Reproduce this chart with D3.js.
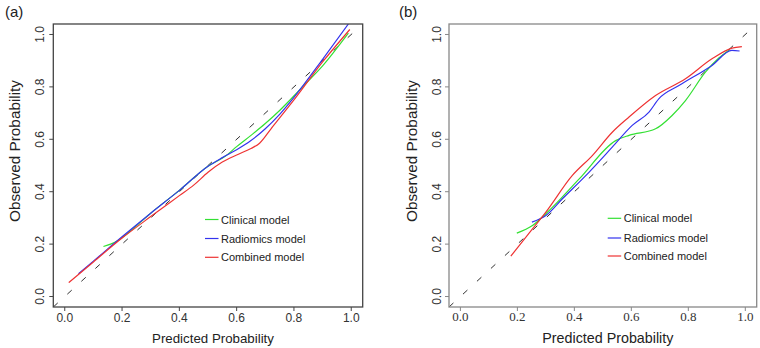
<!DOCTYPE html>
<html>
<head>
<meta charset="utf-8">
<script src="https://cdn.jsdelivr.net/npm/d3@7"></script>
<style>
  html, body { margin: 0; padding: 0; background: #fff; }
  svg { display: block; font-family: "Liberation Sans", Arial, sans-serif; }
</style>
</head>
<body>
<svg id="chart" width="760" height="348"></svg>
<script>
// ── Data ──────────────────────────────────────────────────────────────────────
const TICKS = [0, 0.2, 0.4, 0.6, 0.8, 1.0];
const SERIES_NAMES = ['Clinical model', 'Radiomics model', 'Combined model'];

// (a) training
const A_CLIN_X = [0.135, 0.16, 0.19, 0.25, 0.3, 0.4, 0.5, 0.56, 0.6, 0.65, 0.7, 0.75, 0.83, 0.9, 0.99];
const A_CLIN_Y = [0.191, 0.2, 0.217, 0.27, 0.318, 0.405, 0.497, 0.535, 0.572, 0.615, 0.66, 0.71, 0.80, 0.88, 1.005];
const A_RAD_X  = [0.048, 0.1, 0.2, 0.3, 0.4, 0.5, 0.55, 0.6, 0.65, 0.7, 0.75, 0.8, 0.9, 0.99];
const A_RAD_Y  = [0.087, 0.135, 0.228, 0.318, 0.405, 0.497, 0.53, 0.56, 0.595, 0.64, 0.695, 0.76, 0.905, 1.04];
const A_COMB_X = [0.014, 0.1, 0.2, 0.3, 0.4, 0.45, 0.5, 0.55, 0.6, 0.65, 0.68, 0.72, 0.8, 0.9, 0.995];
const A_COMB_Y = [0.053, 0.132, 0.223, 0.305, 0.385, 0.425, 0.474, 0.513, 0.54, 0.565, 0.585, 0.64, 0.75, 0.895, 1.019];

// (b) validation
const B_CLIN_X = [0.198, 0.253, 0.3, 0.417, 0.545, 0.592, 0.685, 0.743, 0.79, 0.86, 0.907, 0.945];
const B_CLIN_Y = [0.242, 0.271, 0.316, 0.449, 0.595, 0.615, 0.64, 0.691, 0.748, 0.856, 0.91, 0.942];
const B_RAD_X  = [0.251, 0.3, 0.358, 0.452, 0.533, 0.603, 0.662, 0.697, 0.767, 0.883, 0.953, 0.98];
const B_RAD_Y  = [0.284, 0.309, 0.373, 0.475, 0.570, 0.653, 0.704, 0.755, 0.805, 0.882, 0.939, 0.937];
const B_COMB_X = [0.177, 0.253, 0.3, 0.393, 0.463, 0.533, 0.592, 0.685, 0.79, 0.883, 0.953, 0.988];
const B_COMB_Y = [0.154, 0.258, 0.322, 0.462, 0.538, 0.627, 0.685, 0.767, 0.831, 0.907, 0.948, 0.954];

// ── Styles ────────────────────────────────────────────────────────────────────
const COLORS = ['#33e033', '#3333ee', '#ee3333'];
const DOMAIN = [-0.04, 1.04];

const zip = (xs, ys) => xs.map((x, i) => ({ x, y: ys[i] }));

const panels = [
  {
    tag: '(a)', tagX: 5, frame: '#444',
    left: 53.3, right: 362.7, top: 24, bottom: 307,
    yLabelX: 14, yTickX: 40, xTickY: 318, xTickFont: 'Liberation Sans', xTickSize: 12,
    xTitleSize: 13.3,
    legendX: 205, legendY: [219.5, 238.5, 257.3],
    series: [zip(A_CLIN_X, A_CLIN_Y), zip(A_RAD_X, A_RAD_Y), zip(A_COMB_X, A_COMB_Y)],
  },
  {
    tag: '(b)', tagX: 399, frame: '#888',
    left: 449, right: 756.7, top: 24, bottom: 307,
    yLabelX: 411.5, yTickX: 437, xTickY: 316.5, xTickFont: 'Liberation Serif', xTickSize: 13,
    xTitleSize: 14.3,
    legendX: 607.7, legendY: [218.3, 238, 256],
    series: [zip(B_CLIN_X, B_CLIN_Y), zip(B_RAD_X, B_RAD_Y), zip(B_COMB_X, B_COMB_Y)],
  },
];

const svg = d3.select('#chart');

panels.forEach((p, pi) => {
  const x = d3.scaleLinear().domain(DOMAIN).range([p.left, p.right]);
  const y = d3.scaleLinear().domain(DOMAIN).range([p.bottom, p.top]);
  const g = svg.append('g');

  const clipId = `clip-${pi}`;
  g.append('clipPath').attr('id', clipId)
    .append('rect')
    .attr('x', p.left).attr('y', p.top)
    .attr('width', p.right - p.left).attr('height', p.bottom - p.top);

  // panel tag
  g.append('text')
    .attr('x', p.tagX).attr('y', 17)
    .attr('font-size', 15).attr('fill', '#222')
    .text(p.tag);

  // reference diagonal
  g.append('line')
    .attr('clip-path', `url(#${clipId})`)
    .attr('x1', x(DOMAIN[0])).attr('y1', y(DOMAIN[0]))
    .attr('x2', x(1.02)).attr('y2', y(1.02))
    .attr('stroke', '#333').attr('stroke-width', 1)
    .attr('stroke-dasharray', '6,13');

  // calibration curves
  const line = d3.line().x(d => x(d.x)).y(d => y(d.y)).curve(d3.curveMonotoneX);
  p.series.forEach((s, i) => {
    g.append('path')
      .datum(s)
      .attr('clip-path', `url(#${clipId})`)
      .attr('d', line)
      .attr('fill', 'none')
      .attr('stroke', COLORS[i])
      .attr('stroke-width', 1.2);
  });

  // frame
  g.append('rect')
    .attr('x', p.left).attr('y', p.top)
    .attr('width', p.right - p.left).attr('height', p.bottom - p.top)
    .attr('fill', 'none').attr('stroke', p.frame).attr('stroke-width', 1.3);

  // x ticks
  g.selectAll('line.xt').data(TICKS).join('line')
    .attr('x1', d => x(d)).attr('x2', d => x(d))
    .attr('y1', p.bottom).attr('y2', p.bottom + 4)
    .attr('stroke', p.frame);
  g.selectAll('text.xt').data(TICKS).join('text')
    .attr('x', d => x(d)).attr('y', p.xTickY)
    .attr('text-anchor', 'middle').attr('dominant-baseline', 'central')
    .attr('font-family', p.xTickFont).attr('font-size', p.xTickSize)
    .attr('fill', '#333')
    .text(d => d3.format('.1f')(d));

  // y ticks
  g.selectAll('line.yt').data(TICKS).join('line')
    .attr('x1', p.left - 4).attr('x2', p.left)
    .attr('y1', d => y(d)).attr('y2', d => y(d))
    .attr('stroke', p.frame);
  g.selectAll('text.yt').data(TICKS).join('text')
    .attr('transform', d => `translate(${p.yTickX},${y(d)}) rotate(-90)`)
    .attr('text-anchor', 'middle').attr('dominant-baseline', 'central')
    .attr('font-size', 12).attr('fill', '#333')
    .text(d => d3.format('.1f')(d));

  // axis titles
  g.append('text')
    .attr('x', (p.left + p.right) / 2 + 5).attr('y', 338)
    .attr('text-anchor', 'middle').attr('dominant-baseline', 'central')
    .attr('font-size', p.xTitleSize).attr('fill', '#222')
    .text('Predicted Probability');
  g.append('text')
    .attr('transform', `translate(${p.yLabelX},151) rotate(-90)`)
    .attr('text-anchor', 'middle').attr('dominant-baseline', 'central')
    .attr('font-size', 15.3).attr('fill', '#222')
    .text('Observed Probability');

  // legend
  SERIES_NAMES.forEach((name, i) => {
    const ly = p.legendY[i];
    g.append('line')
      .attr('x1', p.legendX).attr('x2', p.legendX + 13.5)
      .attr('y1', ly).attr('y2', ly)
      .attr('stroke', COLORS[i]).attr('stroke-width', 1.2);
    g.append('text')
      .attr('x', p.legendX + 16).attr('y', ly)
      .attr('dominant-baseline', 'central')
      .attr('font-size', 11).attr('fill', '#222')
      .text(name);
  });
});
</script>
</body>
</html>
